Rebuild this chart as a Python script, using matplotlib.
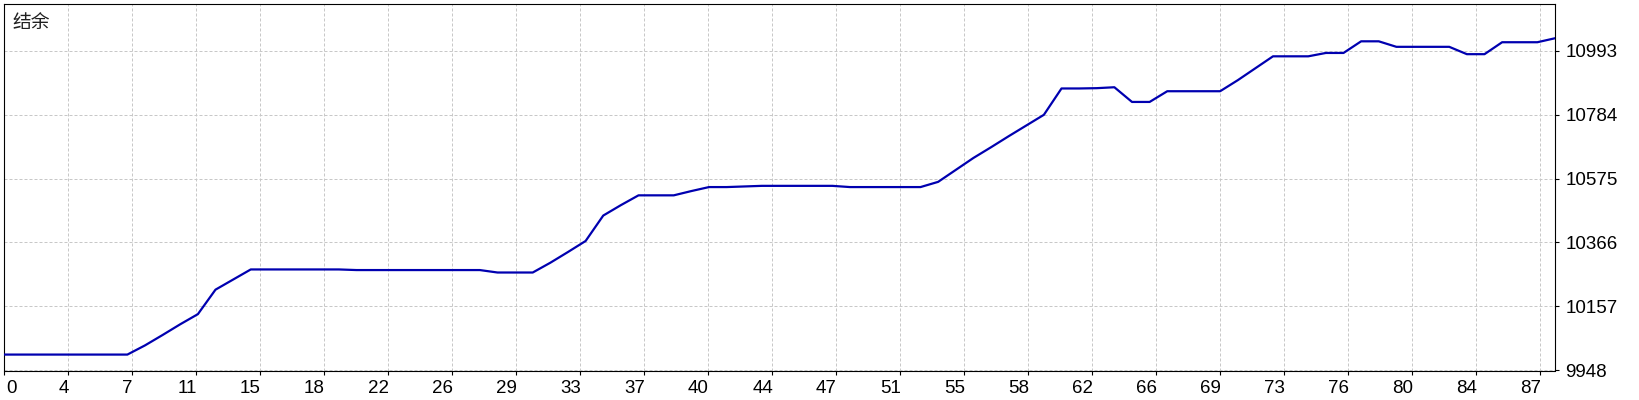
import matplotlib
matplotlib.use("Agg")
import matplotlib.pyplot as plt
import matplotlib.transforms as mtransforms
import numpy as np

plt.rcParams["font.family"] = ["Liberation Sans", "DejaVu Sans"]

# ---- data -------------------------------------------------------------
balance = [
    10000, 10000, 10000, 10000, 10000, 10000, 10000, 10000,   # 0-7
    10030, 10064, 10099, 10132, 10212, 10245, 10278,          # 8-14
    10278, 10278, 10278, 10278, 10278,                        # 15-19
    10276, 10276, 10276, 10276, 10276, 10276, 10276, 10276,   # 20-27
    10268, 10268, 10268,                                      # 28-30
    10300, 10335, 10371, 10454, 10488,                        # 31-35
    10520, 10520, 10520, 10534, 10547, 10547, 10549,          # 36-42
    10551, 10551, 10551, 10551, 10551,                        # 43-47
    10547, 10547, 10547, 10547, 10547,                        # 48-52
    10564, 10603, 10642, 10677, 10713, 10748, 10783,          # 53-59
    10869, 10869, 10870, 10873, 10825, 10825,                 # 60-65
    10860, 10860, 10860, 10860, 10896, 10935,                 # 66-71
    10974, 10974, 10974, 10985, 10985,                        # 72-76
    11023, 11023, 11005, 11005, 11005, 11005,                 # 77-82
    10981, 10981, 11020, 11020, 11020, 11033,                 # 83-88
]
x_tick_labels = ["0", "4", "7", "11", "15", "18", "22", "26", "29", "33", "37",
                 "40", "44", "47", "51", "55", "58", "62", "66", "69", "73",
                 "76", "80", "84", "87"]
y_ticks = [9948, 10157, 10366, 10575, 10784, 10993]
title_text = "结余"

# ---- figure -----------------------------------------------------------
W, H = 1640, 400
fig = plt.figure(figsize=(W / 100, H / 100), dpi=100)
ax_l, ax_r, ax_t, ax_b = 4, 1555, 4.3, 370.5
ax = fig.add_axes([ax_l / W, (H - ax_b) / H, (ax_r - ax_l) / W, (ax_b - ax_t) / H])

n = len(balance)
xs = np.arange(n)
ax.plot(xs, balance, color="#0000B0", lw=1.6, solid_joinstyle="round", zorder=3)

ax.set_xlim(0, n - 1)
y_step = y_ticks[1] - y_ticks[0]
px_per_grid = 64.0
ax.set_ylim(y_ticks[0], y_ticks[0] + (ax_b - ax_t) / px_per_grid * y_step)

ax.yaxis.tick_right()
ax.tick_params(axis="both", direction="out", length=3, width=0.8, color="black",
               labelcolor="black", labelsize=13.5)
ax.tick_params(axis="x", pad=3.5)
ax.tick_params(axis="y", pad=4.5)

# x grid: uniform pixel spacing, labels
x_step = px_per_grid / ((ax_r - ax_l) / (n - 1))
xt = [k * x_step for k in range(len(x_tick_labels))]
ax.set_xticks(xt)
ax.set_xticklabels(x_tick_labels)
ax.set_yticks(y_ticks)
ax.set_yticklabels([str(v) for v in y_ticks])

off_r = mtransforms.ScaledTranslation(1 / 100, 0, fig.dpi_scale_trans)
off_l = mtransforms.ScaledTranslation(2 / 100, 0, fig.dpi_scale_trans)
for i, lab in enumerate(ax.get_xticklabels()):
    lab.set_horizontalalignment("left" if i == 0 else "right")
    lab.set_transform(lab.get_transform() + (off_l if i == 0 else off_r))

ax.grid(True, color="#c8c8c8", lw=0.72, linestyle=(0, (3, 2)), zorder=0)
for s in ax.spines.values():
    s.set_color("black")
    s.set_linewidth(0.8)

ax.text(0.0056, 0.978, title_text, transform=ax.transAxes, ha="left", va="top",
        fontsize=13.5, color="#202020",
        family=["Noto Sans CJK SC", "DejaVu Sans"])

fig.savefig("out.png", dpi=100)
